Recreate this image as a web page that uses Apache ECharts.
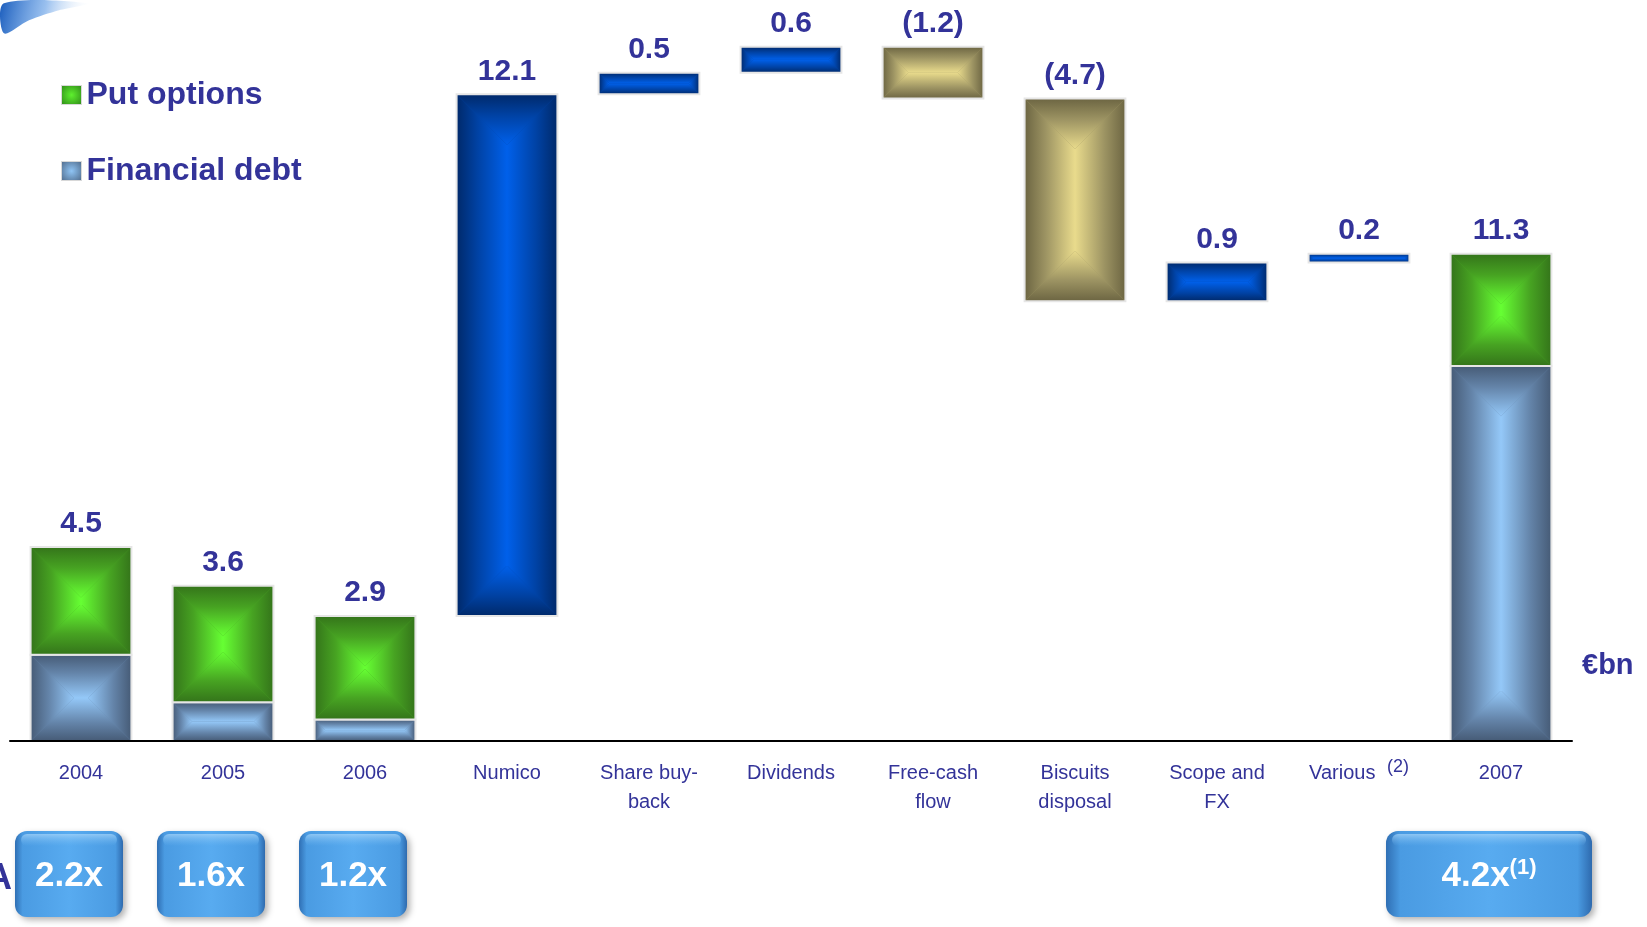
<!DOCTYPE html>
<html>
<head>
<meta charset="utf-8">
<script src="https://cdn.jsdelivr.net/npm/echarts@6/dist/echarts.min.js"></script>
<style>
html,body{margin:0;padding:0;background:#fff;}
#chart{width:1647px;height:927px;}
</style>
</head>
<body>
<div id="chart"></div>
<script>
// ---------- data ----------
const categories = ['2004', '2005', '2006', 'Numico', 'Share buy-\nback', 'Dividends', 'Free-cash\nflow', 'Biscuits\ndisposal', 'Scope and\nFX', 'Various {sup|(2)}', '2007'];
const financialDebt = [2.0, 0.9, 0.5, null, null, null, null, null, null, null, 8.7];
const putOptions    = [2.5, 2.7, 2.4, null, null, null, null, null, null, null, 2.6];
const movements     = [null, null, null, 12.1, 0.5, 0.6, -1.2, -4.7, 0.9, 0.2, null];
const multiples     = ['2.2x', '1.6x', '1.2x', null, null, null, null, null, null, null, '4.2x'];
const multipleNotes = [null, null, null, null, null, null, null, null, null, null, '(1)'];
const seriesNames = ['Put options', 'Financial debt'];
const unitLabel = '€bn';

// ---------- styling ----------
const TEXT = '#333399';
const FONT = 'Arial, "Liberation Sans", sans-serif';
const PAL = {
  green: {dark: '#34741a', mid: '#47a322', light: '#66ff33'},
  steel: {dark: '#465b76', mid: '#6484a9', light: '#94c8f8'},
  blue:  {dark: '#00296a', mid: '#0042a4', light: '#0060ea'},
  khaki: {dark: '#6c6542', mid: '#9d9463', light: '#e9db8c'}
};

function lg(ax, ay, bx, by, p) {
  return new echarts.graphic.LinearGradient(ax, ay, bx, by, [
    {offset: 0, color: p.dark}, {offset: 0.42, color: p.mid}, {offset: 1, color: p.light}
  ], true);
}
function bevel(x, y, w, h, p) {
  const d = Math.min(w, h) / 2;
  const x1 = x + w, y1 = y + h;
  return [
    {type: 'rect', shape: {x: x, y: y, width: w, height: h}, style: {fill: p.mid}},
    {type: 'polygon', shape: {points: [[x, y], [x1, y], [x1 - d, y + d], [x + d, y + d]]}, style: {fill: lg(0, y, 0, y + d, p)}},
    {type: 'polygon', shape: {points: [[x, y1], [x1, y1], [x1 - d, y1 - d], [x + d, y1 - d]]}, style: {fill: lg(0, y1, 0, y1 - d, p)}},
    {type: 'polygon', shape: {points: [[x, y], [x + d, y + d], [x + d, y1 - d], [x, y1]]}, style: {fill: lg(x, 0, x + d, 0, p)}},
    {type: 'polygon', shape: {points: [[x1, y], [x1 - d, y + d], [x1 - d, y1 - d], [x1, y1]]}, style: {fill: lg(x1, 0, x1 - d, 0, p)}},
    {type: 'rect', shape: {x: x, y: y, width: w, height: h}, style: {fill: null, stroke: '#e6e6e6', lineWidth: 2}}
  ];
}
function barRender(paletteFor) {
  return function (params, api) {
    const i = api.value(0);
    const lo = api.coord([i, api.value(1)]);
    const hi = api.coord([i, api.value(2)]);
    const w = api.size([1, 0])[0] * 0.71;
    const p = paletteFor(api);
    return {type: 'group', children: bevel(lo[0] - w / 2, hi[1], w, lo[1] - hi[1], p)};
  };
}

// ---------- derived ----------
const debtData = [], putData = [], moveData = [], labelData = [], labelTexts = [], multData = [];
let running = 0;
categories.forEach((c, i) => {
  if (financialDebt[i] != null) {
    const tot = financialDebt[i] + putOptions[i];
    debtData.push([i, 0, financialDebt[i]]);
    putData.push([i, financialDebt[i], tot]);
    labelData.push([i, tot]);
    labelTexts.push(tot.toFixed(1));
    running = tot;
  }
  if (movements[i] != null) {
    const v = movements[i];
    const lo = Math.min(running, running + v), hi = Math.max(running, running + v);
    moveData.push([i, lo, hi, v < 0 ? 1 : 0]);
    labelData.push([i, hi]);
    labelTexts.push(v < 0 ? '(' + Math.abs(v).toFixed(1) + ')' : v.toFixed(1));
    running += v;
  }
  if (multiples[i] != null) multData.push([i, 0]);
});

const chart = echarts.init(document.getElementById('chart'));
chart.setOption({
  backgroundColor: '#ffffff',
  animation: false,
  grid: {left: 10, right: 75, top: 8, bottom: 186, containLabel: false},
  legend: {
    orient: 'vertical', left: 56, top: 74, itemGap: 44, itemWidth: 20, itemHeight: 19,
    icon: 'rect', selectedMode: false,
    textStyle: {color: TEXT, fontSize: 32, fontWeight: 'bold', fontFamily: FONT},
    data: [
      {name: seriesNames[0], itemStyle: {color: new echarts.graphic.RadialGradient(0.5, 0.5, 0.7, [{offset: 0, color: '#5ef02e'}, {offset: 1, color: '#2f8a18'}]), borderColor: '#d8d8d8', borderWidth: 1}},
      {name: seriesNames[1], itemStyle: {color: new echarts.graphic.RadialGradient(0.5, 0.5, 0.7, [{offset: 0, color: '#8fc4f4'}, {offset: 1, color: '#4f6a8a'}]), borderColor: '#d8d8d8', borderWidth: 1}}
    ]
  },
  xAxis: {
    type: 'category', data: categories, z: 5,
    axisLine: {lineStyle: {color: '#000', width: 2}},
    axisTick: {show: false},
    axisLabel: {
      interval: 0, color: TEXT, fontSize: 20, fontFamily: FONT, lineHeight: 29, margin: 18,
      rich: {sup: {fontSize: 18, color: TEXT, fontFamily: FONT, padding: [0, 0, 12, 6]}}
    }
  },
  yAxis: {type: 'value', min: 0, max: 17, show: false, splitLine: {show: false}},
  graphic: [
    {type: 'polygon', left: 0, top: 0, shape: {points: [[0, 0], [85, 0], [55, 7], [25, 17], [0, 30]], smooth: 0.3},
     style: {fill: new echarts.graphic.LinearGradient(0, 0, 1, 0.6, [{offset: 0, color: '#1a5cbc'}, {offset: 0.5, color: 'rgba(70,140,225,0.55)'}, {offset: 1, color: 'rgba(255,255,255,0)'}])}},
    {type: 'text', x: 1582, y: 666, style: {text: unitLabel, fill: TEXT, font: 'bold 29px ' + FONT, verticalAlign: 'middle'}},
    {type: 'text', x: 12, y: 879, style: {text: 'A', fill: TEXT, font: 'bold 36px ' + FONT, align: 'right', verticalAlign: 'middle'}}
  ],
  series: [
    {name: seriesNames[1], type: 'custom', data: debtData, encode: {x: 0, y: [1, 2]}, itemStyle: {color: '#6f93bb'},
     renderItem: barRender(() => PAL.steel)},
    {name: seriesNames[0], type: 'custom', data: putData, encode: {x: 0, y: [1, 2]}, itemStyle: {color: '#4cc428'},
     renderItem: barRender(() => PAL.green)},
    {name: 'Movements', type: 'custom', data: moveData, encode: {x: 0, y: [1, 2]},
     renderItem: barRender(api => api.value(3) === 1 ? PAL.khaki : PAL.blue)},
    {name: 'Labels', type: 'custom', data: labelData, encode: {x: 0, y: 1}, silent: true,
     renderItem: function (params, api) {
       const c = api.coord([api.value(0), api.value(1)]);
       return {type: 'text', style: {text: labelTexts[params.dataIndex], x: c[0], y: c[1] - 8, fill: TEXT,
         font: 'bold 30px ' + FONT, align: 'center', verticalAlign: 'bottom'}};
     }},
    {name: 'Multiples', type: 'custom', data: multData, encode: {x: 0, y: 1}, silent: true,
     renderItem: function (params, api) {
       const i = api.value(0);
       const c = api.coord([i, 0]);
       const note = multipleNotes[i];
       const bw = note ? 206 : 108, bh = 86;
       const cx = c[0] - 12, top = c[1] + 90, x = cx - bw / 2;
       const fill = new echarts.graphic.LinearGradient(0, 0, 1, 0, [
         {offset: 0, color: '#2f6fb4'}, {offset: 0.07, color: '#4a9be2'}, {offset: 0.5, color: '#58abf0'},
         {offset: 0.93, color: '#4a9be2'}, {offset: 1, color: '#2e6aae'}]);
       return {type: 'group', children: [
         {type: 'rect', shape: {x: x, y: top, width: bw, height: bh, r: 12},
          style: {fill: fill, shadowBlur: 6, shadowColor: 'rgba(0,0,0,0.3)', shadowOffsetX: 3, shadowOffsetY: 3}},
         {type: 'rect', shape: {x: x + 6, y: top + 3, width: bw - 12, height: 12, r: 6},
          style: {fill: new echarts.graphic.LinearGradient(0, 0, 0, 1, [{offset: 0, color: 'rgba(170,215,250,0.7)'}, {offset: 1, color: 'rgba(120,190,245,0)'}])}},
         {type: 'text', style: {
           text: multiples[i] + (note ? '{sup|' + note + '}' : ''), x: cx, y: top + bh / 2 + 2,
           fill: '#ffffff', font: 'bold 35px ' + FONT, align: 'center', verticalAlign: 'middle',
           rich: {sup: {fontSize: 22, fontWeight: 'bold', fontFamily: FONT, fill: '#ffffff', color: '#ffffff', padding: [0, 0, 16, 0]}}
         }}
       ]};
     }}
  ]
});
</script>
</body>
</html>
